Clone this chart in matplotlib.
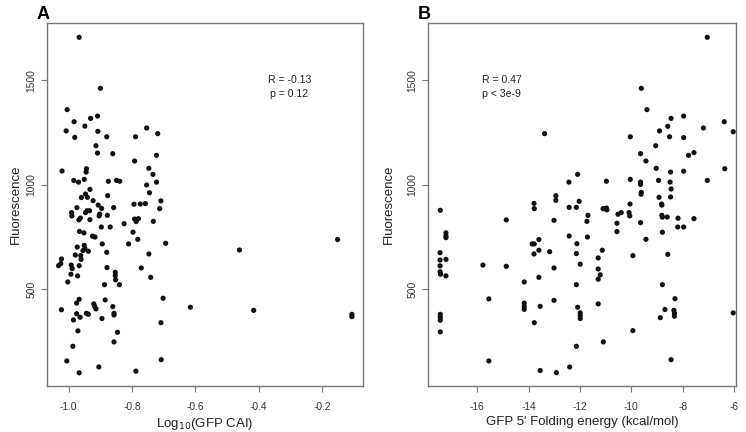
import matplotlib.pyplot as plt

plt.rcParams["font.family"] = ["Liberation Sans", "DejaVu Sans"]
plt.rcParams["axes.unicode_minus"] = False

# Panel A: log10(GFP CAI) vs fluorescence
cai_x = [-0.967, -0.900, -1.005, -0.909, -0.931, -0.983, -0.949, -0.754, -1.008, -0.908,
         -0.719, -0.981, -0.880, -0.789, -0.914, -0.909, -0.861, -0.723, -0.792, -0.747,
         -0.944, -0.945, -1.021, -0.734, -0.984, -0.969, -0.951, -0.875, -0.849, -0.839,
         -0.723, -0.754, -0.745, -0.933, -0.947, -0.941, -0.960, -0.877, -0.709, -0.794,
         -0.774, -0.758, -0.923, -0.907, -0.896, -0.974, -0.858, -0.713, -0.991, -0.990,
         -0.947, -0.934, -0.942, -0.902, -0.904, -0.878, -0.968, -0.963, -0.933, -0.792,
         -0.780, -0.787, -0.733, -0.825, -0.897, -0.869, -0.966, -0.952, -0.797, -0.925,
         -0.917, -0.782, -0.811, -0.894, -0.694, -0.973, -0.951, -0.949, -0.938, -0.955,
         -0.880, -0.461, -0.151, -0.979, -0.962, -0.747, -1.023, -0.961, -1.032, -0.992,
         -1.025, -0.989, -0.967, -0.879, -0.771, -0.993, -0.972, -0.853, -0.853, -0.741,
         -1.003, -0.852, -0.887, -0.840, -0.702, -0.967, -0.885, -0.975, -0.921, -0.918,
         -0.914, -0.861, -0.616, -1.023, -0.416, -0.975, -0.944, -0.938, -0.857, -0.857,
         -0.106, -0.106, -0.964, -0.985, -0.895, -0.709, -0.846, -0.971, -0.857, -0.987,
         -1.006, -0.708, -0.905, -0.967, -0.788]
cai_y = [1706, 1462, 1360, 1329, 1318, 1302, 1281, 1272, 1258, 1256,
         1245, 1227, 1230, 1230, 1187, 1152, 1149, 1141, 1114, 1079,
         1077, 1061, 1066, 1050, 1021, 1013, 1026, 1017, 1021, 1017,
         1013, 999, 962, 978, 956, 940, 939, 948, 923, 907,
         908, 910, 924, 903, 887, 891, 891, 886, 867, 851,
         867, 876, 876, 860, 851, 854, 832, 841, 833, 836,
         838, 824, 825, 814, 798, 798, 777, 770, 773, 754,
         750, 739, 717, 717, 720, 702, 710, 694, 682, 685,
         677, 688, 738, 664, 661, 669, 645, 643, 613, 616,
         623, 599, 613, 604, 602, 572, 564, 581, 565, 557,
         535, 545, 522, 522, 457, 452, 449, 434, 430, 417,
         406, 417, 414, 402, 399, 383, 385, 380, 385, 377,
         380, 369, 366, 353, 360, 340, 294, 301, 248, 227,
         157, 163, 128, 100, 108]

# Panel B: GFP 5' folding energy vs fluorescence
fold_x = [-7.04, -9.61, -9.39, -7.96, -8.45, -6.38, -8.58, -7.19, -8.90, -6.03,
          -13.38, -10.04, -8.51, -7.96, -9.05, -9.64, -7.56, -7.77, -9.43, -9.03,
          -6.36, -12.09, -7.96, -8.47, -12.43, -10.97, -10.04, -8.94, -7.04, -9.64,
          -9.64, -8.49, -9.61, -9.62, -8.45, -12.94, -12.94, -8.47, -8.92, -12.03,
          -10.05, -13.79, -8.82, -8.81, -13.78, -12.42, -12.14, -11.10, -11.04, -10.95,
          -10.97, -17.44, -11.69, -10.52, -10.39, -10.09, -10.06, -8.81, -8.79, -8.60,
          -8.18, -7.56, -14.87, -13.01, -11.73, -10.56, -9.64, -7.96, -8.19, -17.22,
          -10.56, -8.79, -11.71, -12.42, -13.60, -9.43, -12.12, -17.22, -17.22, -13.86,
          -13.78, -17.45, -13.60, -13.18, -11.13, -13.79, -12.14, -9.94, -8.58, -17.45,
          -17.22, -11.29, -15.78, -11.99, -17.45, -14.87, -13.01, -11.29, -17.45, -17.43,
          -17.22, -11.21, -13.60, -11.29, -14.17, -12.14, -8.79, -15.55, -13.01, -8.30,
          -14.17, -11.29, -14.17, -14.17, -13.55, -12.09, -8.69, -8.34, -6.03, -11.99,
          -11.99, -11.99, -17.44, -17.44, -17.44, -8.32, -8.32, -8.87, -13.78, -17.44,
          -9.94, -11.09, -12.14, -15.55, -8.45, -12.40, -13.55, -12.92]
fold_y = [1706, 1462, 1360, 1329, 1318, 1302, 1280, 1272, 1258, 1254,
          1245, 1230, 1230, 1226, 1187, 1149, 1154, 1141, 1114, 1079,
          1077, 1050, 1065, 1061, 1013, 1017, 1026, 1021, 1021, 1013,
          1002, 1013, 964, 955, 980, 948, 926, 942, 940, 921,
          908, 911, 908, 903, 886, 892, 892, 886, 886, 880,
          889, 878, 854, 859, 867, 867, 851, 854, 845, 846,
          840, 838, 832, 830, 825, 816, 819, 798, 798, 770,
          776, 773, 750, 755, 738, 739, 718, 755, 747, 717,
          717, 675, 687, 680, 687, 669, 671, 661, 667, 640,
          643, 650, 616, 620, 612, 610, 602, 597, 584, 572,
          564, 569, 557, 548, 535, 522, 522, 454, 447, 455,
          434, 430, 418, 404, 418, 414, 403, 399, 387, 387,
          374, 360, 380, 366, 352, 385, 371, 364, 340, 296,
          302, 248, 227, 157, 163, 128, 111, 101]

y_ticks = [500, 1000, 1500]
cai_ticks = [-1.0, -0.8, -0.6, -0.4, -0.2]
fold_ticks = [-16, -14, -12, -10, -8, -6]

fig = plt.figure(figsize=(7.46, 4.32), dpi=100)
ax_a = fig.add_axes([0.0626, 0.1065, 0.4245, 0.8395])
ax_b = fig.add_axes([0.5737, 0.1065, 0.4133, 0.8395])


def style_axis(ax, label_x):
    for s in ax.spines.values():
        s.set_color("#777777")
        s.set_linewidth(1.0)
    ax.tick_params(length=4.5, width=0.8, color="#777777", labelcolor="#333333",
                   labelsize=7.4)
    ax.tick_params(axis="x", pad=7)
    ax.tick_params(axis="y", pad=3)
    ax.set_yticks(y_ticks)
    ax.set_yticklabels([str(t) for t in y_ticks], rotation=90, va="center")
    ax.set_ylim(37, 1773)
    ax.set_ylabel("Fluorescence", fontsize=9.5, color="#222222")
    ax.yaxis.set_label_coords(label_x, 0.5)


ax_a.scatter(cai_x, cai_y, s=14, color="#111111", edgecolors="none")
style_axis(ax_a, -0.079)
ax_a.set_xlim(-1.0695, -0.0698)
ax_a.set_xticks(cai_ticks)
ax_a.set_xticklabels(["-1.0", "-0.8", "-0.6", "-0.4", "-0.2"])
ax_a.set_xlabel("Log$_{10}$(GFP CAI)", fontsize=9.5, color="#222222", labelpad=3)
ax_a.text(-0.303, 1500, "R = -0.13", ha="center", va="center", fontsize=7.6, color="#222222")
ax_a.text(-0.303, 1433, "p = 0.12", ha="center", va="center", fontsize=7.6, color="#222222")
fig.text(0.049, 0.985, "A", fontsize=13, fontweight="bold", ha="left", va="top")

ax_b.scatter(fold_x, fold_y, s=14, color="#111111", edgecolors="none")
style_axis(ax_b, -0.108)
ax_b.set_xlim(-17.92, -5.91)
ax_b.set_xticks(fold_ticks)
ax_b.set_xlabel("GFP 5' Folding energy (kcal/mol)", fontsize=9.5, color="#222222", labelpad=3)
ax_b.text(-15.04, 1500, "R = 0.47", ha="center", va="center", fontsize=7.6, color="#222222")
ax_b.text(-15.04, 1433, "p < 3e-9", ha="center", va="center", fontsize=7.6, color="#222222")
fig.text(0.560, 0.985, "B", fontsize=13, fontweight="bold", ha="left", va="top")

fig.savefig("out.png", dpi=100)
